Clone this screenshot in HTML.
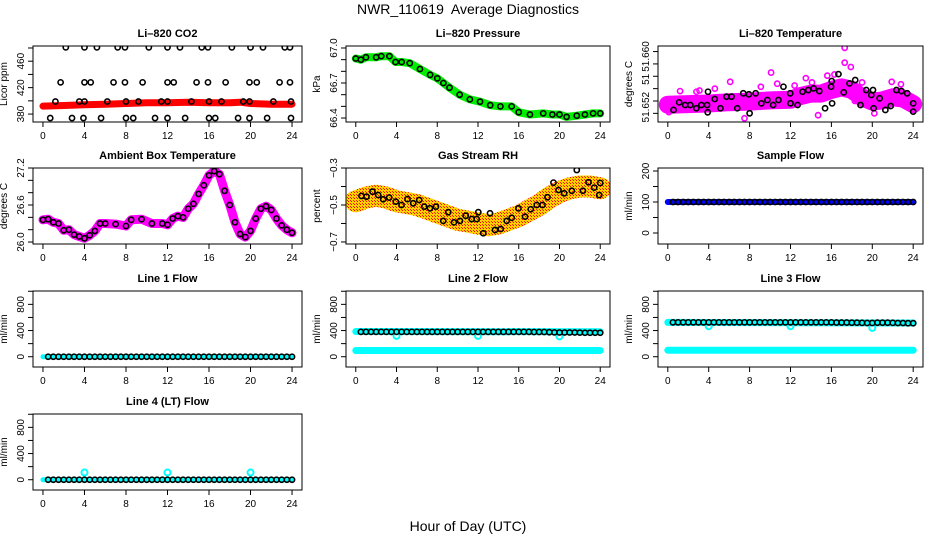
<!DOCTYPE html>
<html><head><meta charset="utf-8">
<style>
html,body{margin:0;padding:0;background:#fff;}
svg{display:block;font-family:"Liberation Sans",Arial,sans-serif;}
</style></head>
<body>
<svg id="chart" width="936" height="540" viewBox="0 0 936 540" xmlns="http://www.w3.org/2000/svg">
<defs>
<pattern id="rhpat" width="3" height="3" patternUnits="userSpaceOnUse">
<rect width="3" height="3" fill="#ffd000"/>
<rect x="0" y="0" width="1" height="1" fill="#ff0000"/>
<rect x="2" y="2" width="1" height="1" fill="#ff2000"/>
</pattern>
</defs>
<text x="468" y="14" text-anchor="middle" font-size="14">NWR_110619&#160; Average Diagnostics</text>
<text x="468" y="531" text-anchor="middle" font-size="14">Hour of Day (UTC)</text>
</svg>
<script>
// ---- data ----
const xTicks = [0,4,8,12,16,20,24];
const halfHours = [0.5,1,1.5,2,2.5,3,3.5,4,4.5,5,5.5,6,6.5,7,7.5,8,8.5,9,9.5,10,10.5,11,11.5,12,12.5,13,13.5,14,14.5,15,15.5,16,16.5,17,17.5,18,18.5,19,19.5,20,20.5,21,21.5,22,22.5,23,23.5,24];

// CO2
const co2BandHours = [0,2,4,6,8,10,12,14,16,18,19,20,22,24];
const co2BandValues = [392,393,394,395,396,397,397,398,397,397,398,396,395,395];
const co2PointHours = [2.2,4.0,5.2,7.2,7.9,10.2,12.0,13.2,15.3,15.9,18.2,20.0,21.2,23.3,23.8,
 1.7,4.0,4.6,6.8,7.9,9.6,12.0,12.6,14.8,15.9,17.6,19.9,20.6,22.8,23.8,
 1.2,3.5,4.0,6.2,8.0,9.2,11.4,12.0,14.3,16.0,17.2,19.3,19.9,22.2,23.9,
 0.7,2.8,3.9,5.6,8.0,8.7,10.8,12.0,13.7,16.0,16.6,18.8,19.9,21.6,23.9];
const co2PointValues = [481,481,481,481,481,481,481,481,481,481,481,481,481,481,481,
 428,428,428,428,428,428,428,428,428,428,428,428,428,428,428,
 399,399,399,399,399,399,399,399,399,399,399,399,399,399,399,
 374,374,374,374,374,374,374,374,374,374,374,374,374,374,374];

// Pressure
const presHours = [0,0.5,1,2,2.5,3.3,3.9,4.5,5.3,6.3,7.3,8,8.6,9.2,10.2,11.2,12.2,13.2,14.2,15.3,16,17.1,18.4,19.3,20,20.7,21.7,22.5,23.3,24];
const presValues = [66.91,66.90,66.92,66.92,66.93,66.93,66.88,66.88,66.87,66.82,66.77,66.74,66.70,66.66,66.60,66.56,66.54,66.51,66.50,66.50,66.45,66.43,66.44,66.43,66.43,66.41,66.42,66.43,66.44,66.44];

// Li-820 temperature
const ltBandHours = [0,2,4,6,8,10,12,13,14,15,16,17,18,19,20,21,22,23,24];
const ltBandValues = [51.6514,51.6515,51.6516,51.6518,51.6519,51.6521,51.6522,51.6528,51.6532,51.6532,51.6538,51.6542,51.6538,51.6526,51.6519,51.6521,51.6526,51.6524,51.6515];
const ltPointHours = [0.56,1.11,1.7,2.2,2.79,3.28,3.84,3.9,3.93,4.59,5.15,5.74,6.23,6.79,7.38,7.93,8.0,8.59,9.15,9.74,10.3,10.82,11.31,11.97,12.0,12.69,13.18,13.74,14.26,14.82,15.38,15.97,16.03,16.07,16.69,17.21,17.77,18.33,18.85,19.41,19.9,20.07,20.13,20.72,21.28,21.8,22.36,22.85,23.41,24.0,24.0];
const ltPointValues = [51.65055,51.65178,51.65135,51.65135,51.65082,51.65135,51.65135,51.65017,51.6535,51.65232,51.65082,51.6527,51.6527,51.65082,51.65324,51.65308,51.65001,51.65324,51.65162,51.65216,51.65135,51.65216,51.65431,51.65324,51.65162,51.65135,51.6535,51.65377,51.65404,51.65361,51.65082,51.65431,51.65523,51.65162,51.65635,51.6534,51.65485,51.65539,51.65135,51.65377,51.65297,51.65377,51.65082,51.65243,51.65055,51.65119,51.65377,51.65361,51.65324,51.65162,51.65028];
const ltOutHours = [17.3,17.3,17.9,14.1,10.1,13.5,7.5,14.7,9.1,4.6,6.1,16.3,20.2,21.9,0.1,18.3,2.8,10.7,1.2,3.1,12.4,19.0,22.8,15.6];
const ltOutValues = [51.6606,51.6582,51.6575,51.6550,51.6566,51.6557,51.6492,51.6497,51.6543,51.6540,51.6551,51.6563,51.6500,51.6551,51.6502,51.6520,51.6535,51.6548,51.6536,51.6537,51.6545,51.6550,51.6547,51.6561];

// Ambient box temperature
const ambHours = [0,0.5,1,1.5,2,2.5,3,3.5,4,4.5,5,5.5,6,7,8,8.5,9.5,10.5,11.5,12,12.5,13,13.5,14,14.5,15,15.5,16,16.5,17,17.5,18,18.5,19,19.5,20,20.5,21,21.5,22,22.5,23,23.5,24];
const ambValues = [26.36,26.37,26.32,26.30,26.19,26.20,26.12,26.09,26.06,26.11,26.18,26.30,26.30,26.29,26.26,26.36,26.37,26.30,26.30,26.28,26.38,26.42,26.40,26.54,26.62,26.78,26.92,27.08,27.15,27.10,26.83,26.60,26.32,26.13,26.08,26.18,26.38,26.54,26.58,26.52,26.38,26.27,26.20,26.15];

// Gas stream RH
const rhBandHours = [0,1,2,3,4,5,6,7,8,9,10,11,12,13,14,15,16,17,18,19,20,21,22,23,24];
const rhBandValues = [-0.48,-0.46,-0.45,-0.46,-0.48,-0.49,-0.50,-0.52,-0.54,-0.56,-0.58,-0.59,-0.60,-0.61,-0.60,-0.58,-0.56,-0.53,-0.50,-0.46,-0.43,-0.41,-0.40,-0.40,-0.41];
const rhPointHours = [0.56,1.05,1.64,2.2,2.69,3.28,3.93,4.49,5.08,5.64,6.23,6.72,7.28,7.87,8.59,9.08,9.64,10.23,10.79,11.38,11.87,12.03,12.52,13.18,13.67,14.23,14.82,15.31,15.97,16.62,17.18,17.77,18.33,18.82,19.41,19.9,20.46,21.21,21.7,22.3,22.85,23.41,24.0,23.9];
const rhPointValues = [-0.451,-0.455,-0.428,-0.446,-0.469,-0.46,-0.482,-0.5,-0.468,-0.491,-0.473,-0.509,-0.518,-0.509,-0.586,-0.539,-0.594,-0.586,-0.558,-0.576,-0.576,-0.539,-0.653,-0.545,-0.635,-0.63,-0.586,-0.569,-0.518,-0.563,-0.523,-0.5,-0.5,-0.458,-0.379,-0.419,-0.437,-0.423,-0.311,-0.423,-0.377,-0.406,-0.381,-0.446];

// Flows
const sampleFlow = [100,100,100,100,100,100,100,100,100,100,100,100,100,100,100,100,100,100,100,100,100,100,100,100,100,100,100,100,100,100,100,100,100,100,100,100,100,100,100,100,100,100,100,100,100,100,100,100];
const line1Flow = [0,0,0,0,0,0,0,0,0,0,0,0,0,0,0,0,0,0,0,0,0,0,0,0,0,0,0,0,0,0,0,0,0,0,0,0,0,0,0,0,0,0,0,0,0,0,0,0];
const line2Flow = [380,380,380,380,380,380,380,380,380,380,380,380,380,380,380,380,380,380,380,380,380,380,380,380,380,380,380,380,380,380,380,380,380,380,378,378,378,375,372,370,370,370,370,368,366,366,366,366];
const line3Flow = [525,525,525,525,525,525,525,525,525,525,525,525,525,525,525,525,525,525,525,525,525,525,525,525,525,525,525,525,525,525,525,525,522,522,522,520,520,518,516,516,520,520,520,518,515,515,512,512];
const line4Flow = [0,0,0,0,0,0,0,0,0,0,0,0,0,0,0,0,0,0,0,0,0,0,0,0,0,0,0,0,0,0,0,0,0,0,0,0,0,0,0,0,0,0,0,0,0,0,0,0];
const cyanBandHours = [0,24];
const line2CyanHigh = [385,380];
const line2CyanLow = [95,95];
const line3CyanHigh = [525,515];
const line3CyanLow = [100,100];
const cyanDipHours = [4,12,20];
const line2Dips = [318,318,310];
const line3Dips = [466,466,440];
const line4Spikes = [110,110,110];

// ---- layout ----
const svg = document.getElementById('chart');
const NS = 'http://www.w3.org/2000/svg';
const colLeft = [33,346,658], colW = [269,264,265];
const rowTop = [46,168,291,414], boxH = 76;

function el(tag, attrs, parent){
  const e = document.createElementNS(NS, tag);
  for (const k in attrs) e.setAttribute(k, attrs[k]);
  (parent||svg).appendChild(e);
  return e;
}

function makePanel(name, col, row, ymin, ymax, title, ytitle, ticks, labels){
  const L = colLeft[col], T = rowTop[row], W = colW[col], H = boxH;
  const g = el('g', {});
  
  
  const sx = h => L + (h + 0.96) / 25.92 * W;
  const sy = v => T + H * (ymax - v) / (ymax - ymin);
  const t = el('text', {x: L + W/2, y: T - 9, 'text-anchor':'middle', 'font-size':11, 'font-weight':'bold'}, g);
  t.textContent = title;
  
  
  const yt = el('text', {x: L - 26, y: T + H/2, 'text-anchor':'middle', 'font-size':10, transform:`rotate(-90 ${L-26} ${T+H/2})`}, g);
  yt.textContent = ytitle;
  
  
  const xa = el('g', {stroke:'#000','stroke-width':1}, g);
  
  
  el('line', {x1:sx(0), x2:sx(24), y1:T+H, y2:T+H}, xa);
  xTicks.forEach(v => {
    el('line', {x1:sx(v), x2:sx(v), y1:T+H, y2:T+H+5}, xa);
    const tx = el('text', {x:sx(v), y:T+H+17, 'text-anchor':'middle','font-size':10, stroke:'none', fill:'#000'}, xa);
    tx.textContent = v;
    
    
  });
  const ya = el('g', {stroke:'#000','stroke-width':1}, g);
  
  
  el('line', {x1:L, x2:L, y1:sy(ticks[0]), y2:sy(ticks[ticks.length-1])}, ya);
  ticks.forEach(v => el('line', {x1:L-5, x2:L, y1:sy(v), y2:sy(v)}, ya));
  labels.forEach(lb => {
    const yy = lb.y !== undefined ? lb.y : sy(lb.v);
    const tx = el('text', {x:L-9, y:yy, 'text-anchor':'middle','font-size':10, stroke:'none', fill:'#000', transform:`rotate(-90 ${L-9} ${yy})`}, ya);
    tx.textContent = lb.t;
    
    
  });
  const plot = el('g', {}, g);
  
  
  const clip = 'clip-' + name;
  const cp = el('clipPath', {id: clip}, g);
  el('rect', {x:L, y:T, width:W, height:H}, cp);
  plot.setAttribute('clip-path', `url(#${clip})`);
  const box = el('rect', {x:L, y:T, width:W, height:H, fill:'none', stroke:'#000','stroke-width':1}, g);
  
  
  return {sx, sy, plot};
}

function band(p, hrs, vals, color, width, nm){
  const pts = hrs.map((h,i) => p.sx(h).toFixed(1) + ',' + p.sy(vals[i]).toFixed(1)).join(' ');
  const pl = el('polyline', {points:pts, fill:'none', stroke:color, 'stroke-width':width, 'stroke-linejoin':'round','stroke-linecap':'round'}, p.plot);
  
  
}
function points(p, hrs, vals, color, r, nm, sw){
  hrs.forEach((h,i) => {
    const c = el('circle', {cx:p.sx(h), cy:p.sy(vals[i]), r:r, fill:'none', stroke:color, 'stroke-width':sw||1.6}, p.plot);
    
    
  });
}

let p = makePanel('co2', 0, 0, 368, 483, 'Li\u2013820 CO2', 'Licor ppm', [380,400,420,440,460,480], [{v:380,t:'380'},{v:420,t:'420'},{v:460,t:'460'}]);
band(p, co2BandHours, co2BandValues, '#ff0000', 7, 'co2-red-band');
points(p, co2PointHours, co2PointValues, '#000', 2.6, 'co2-point');

p = makePanel('pressure', 1, 0, 66.366, 67.017, 'Li\u2013820 Pressure', 'kPa', [66.4,66.5,66.6,66.7,66.8,66.9,67.0], [{v:66.4,t:'66.4'},{v:66.7,t:'66.7'},{v:67.0,t:'67.0'}]);
band(p, presHours, presValues, '#00ee00', 8, 'pressure-green-band');
points(p, presHours, presValues, '#000', 2.6, 'pressure-point');

p = makePanel('li820-temp', 2, 0, 51.6486, 51.6609, 'Li\u2013820 Temperature', 'degrees C', [51.650,51.652,51.654,51.656,51.658,51.660], [{v:51.6510,t:'51.652'},{v:51.6555,t:'51'},{v:51.6592,t:'51.660'}]);
band(p, ltBandHours, ltBandValues, '#ff00ff', 18, 'li820-temp-magenta-band');
points(p, ltOutHours, ltOutValues, '#ff00ff', 2.6, 'li820-temp-outlier');
points(p, ltPointHours, ltPointValues, '#000', 2.6, 'li820-temp-point');

p = makePanel('ambient-temp', 0, 1, 25.968, 27.2, 'Ambient Box Temperature', 'degrees C', [26.0,26.2,26.4,26.6,26.8,27.0,27.2], [{v:26.0,t:'26.0'},{v:26.6,t:'26.6'},{v:27.2,t:'27.2'}]);
band(p, ambHours, ambValues, '#ff00ff', 9, 'ambient-magenta-band');
points(p, ambHours, ambValues, '#000', 2.6, 'ambient-point');

p = makePanel('gas-rh', 1, 1, -0.711, -0.3, 'Gas Stream RH', 'percent', [-0.7,-0.6,-0.5,-0.4,-0.3], [{v:-0.7,t:'\u22120.7'},{v:-0.5,t:'\u22120.5'},{v:-0.3,t:'\u22120.3'}]);
band(p, rhBandHours, rhBandValues, 'url(#rhpat)', 22, 'rh-orange-band');
points(p, rhPointHours, rhPointValues, '#000', 2.6, 'rh-point');

p = makePanel('sample-flow', 2, 1, -35.5, 209.7, 'Sample Flow', 'ml/min', [0,50,100,150,200], [{v:0,t:'0'},{v:100,t:'100'},{v:200,t:'200'}]);
band(p, [0,24], [100,100], '#0000ff', 6, 'sample-flow-blue-band');
points(p, halfHours, sampleFlow, '#000', 2.6, 'sample-flow-point');

const flowTicks = [0,200,400,600,800,1000];
const flowLabels = [{v:0,t:'0'},{v:400,t:'400'},{v:800,t:'800'}];
p = makePanel('line1-flow', 0, 2, -157, 1004, 'Line 1 Flow', 'ml/min', flowTicks, flowLabels);
band(p, [0,24], [0,0], '#00ffff', 5, 'line1-cyan-band');
points(p, halfHours, line1Flow, '#000', 2.6, 'line1-point');
p = makePanel('line2-flow', 1, 2, -157, 1004, 'Line 2 Flow', 'ml/min', flowTicks, flowLabels);
band(p, cyanBandHours, line2CyanHigh, '#00ffff', 7, 'line2-cyan-high');
band(p, cyanBandHours, line2CyanLow, '#00ffff', 7, 'line2-cyan-low');
points(p, cyanDipHours, line2Dips, '#00ffff', 3, 'line2-cyan-dip', 2);
points(p, halfHours, line2Flow, '#000', 2.6, 'line2-point');
p = makePanel('line3-flow', 2, 2, -157, 1004, 'Line 3 Flow', 'ml/min', flowTicks, flowLabels);
band(p, cyanBandHours, line3CyanHigh, '#00ffff', 7, 'line3-cyan-high');
band(p, cyanBandHours, line3CyanLow, '#00ffff', 7, 'line3-cyan-low');
points(p, cyanDipHours, line3Dips, '#00ffff', 3, 'line3-cyan-dip', 2);
points(p, halfHours, line3Flow, '#000', 2.6, 'line3-point');
p = makePanel('line4-flow', 0, 3, -157, 1004, 'Line 4 (LT) Flow', 'ml/min', flowTicks, flowLabels);
band(p, [0,24], [0,0], '#00ffff', 5, 'line4-cyan-band');
points(p, cyanDipHours, line4Spikes, '#00ffff', 3, 'line4-cyan-spike', 2);
points(p, halfHours, line4Flow, '#000', 2.6, 'line4-point');
</script>
</body></html>
